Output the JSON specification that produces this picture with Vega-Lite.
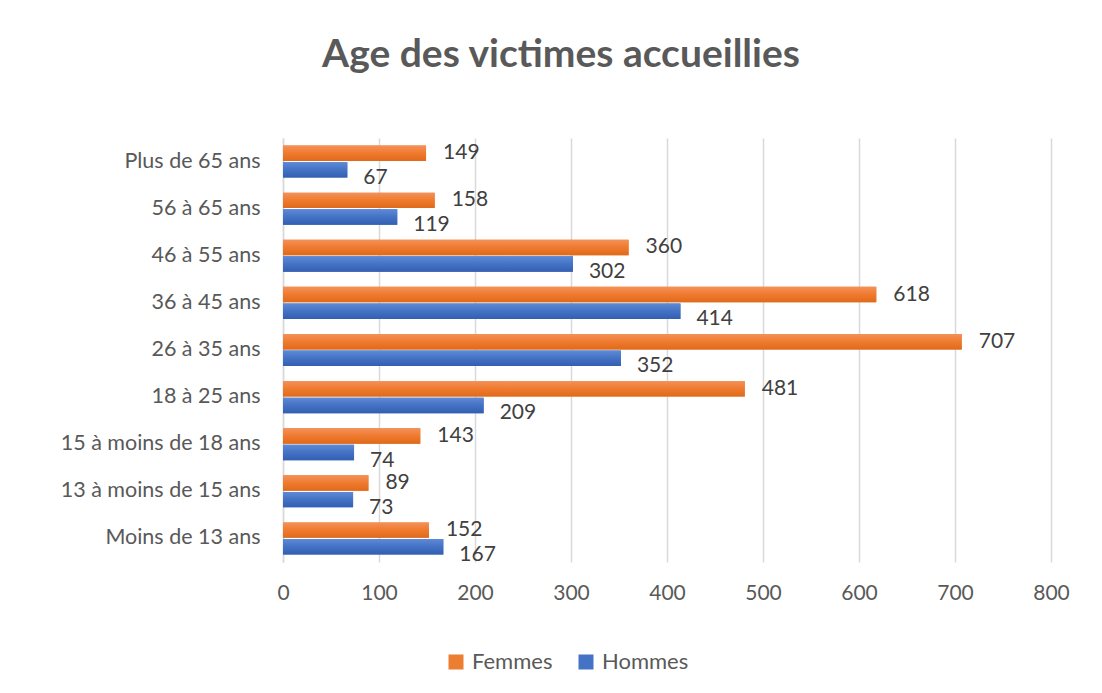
{
  "$schema": "https://vega.github.io/schema/vega-lite/v6.json",
  "width": 768,
  "height": 424,
  "autosize": "none",
  "padding": {"left": 283, "top": 138, "right": 51, "bottom": 131},
  "background": "white",
  "title": {
    "text": "Age des victimes accueillies",
    "font": "Lato",
    "fontSize": 39,
    "fontWeight": "bold",
    "color": "#595959",
    "anchor": "middle",
    "frame": "group",
    "dx": -106,
    "offset": 63
  },
  "config": {
    "view": {"stroke": null},
    "font": "Lato"
  },
  "data": {
    "values": [
      {"age": "Plus de 65 ans", "sexe": "Femmes", "n": 149},
      {"age": "Plus de 65 ans", "sexe": "Hommes", "n": 67},
      {"age": "56 à 65 ans", "sexe": "Femmes", "n": 158},
      {"age": "56 à 65 ans", "sexe": "Hommes", "n": 119},
      {"age": "46 à 55 ans", "sexe": "Femmes", "n": 360},
      {"age": "46 à 55 ans", "sexe": "Hommes", "n": 302},
      {"age": "36 à 45 ans", "sexe": "Femmes", "n": 618},
      {"age": "36 à 45 ans", "sexe": "Hommes", "n": 414},
      {"age": "26 à 35 ans", "sexe": "Femmes", "n": 707},
      {"age": "26 à 35 ans", "sexe": "Hommes", "n": 352},
      {"age": "18 à 25 ans", "sexe": "Femmes", "n": 481},
      {"age": "18 à 25 ans", "sexe": "Hommes", "n": 209},
      {"age": "15 à moins de 18 ans", "sexe": "Femmes", "n": 143},
      {"age": "15 à moins de 18 ans", "sexe": "Hommes", "n": 74},
      {"age": "13 à moins de 15 ans", "sexe": "Femmes", "n": 89},
      {"age": "13 à moins de 15 ans", "sexe": "Hommes", "n": 73},
      {"age": "Moins de 13 ans", "sexe": "Femmes", "n": 152},
      {"age": "Moins de 13 ans", "sexe": "Hommes", "n": 167}
    ]
  },
  "encoding": {
    "y": {
      "field": "age",
      "type": "nominal",
      "sort": null,
      "scale": {"paddingInner": 0.32, "paddingOuter": 0.16},
      "axis": {
        "title": null,
        "ticks": false,
        "labelFontSize": 21.5,
        "labelColor": "#595959",
        "labelPadding": 23,
        "labelLimit": 300,
        "domainColor": "#D9D9D9",
        "domainWidth": 1.5,
        "grid": false
      }
    },
    "yOffset": {
      "field": "sexe",
      "type": "nominal",
      "sort": ["Femmes", "Hommes"],
      "scale": {"domain": ["Femmes", "Hommes"], "paddingInner": 0.07}
    },
    "x": {
      "field": "n",
      "type": "quantitative",
      "scale": {"domain": [0, 800], "nice": false},
      "axis": {
        "title": null,
        "values": [0, 100, 200, 300, 400, 500, 600, 700, 800],
        "ticks": false,
        "domain": false,
        "labelFlush": false,
        "labelOverlap": false,
        "labelFontSize": 21,
        "labelColor": "#595959",
        "labelPadding": 20,
        "gridColor": "#D9D9D9",
        "gridWidth": 1.5
      }
    }
  },
  "layer": [
    {
      "mark": {"type": "bar"},
      "encoding": {
        "color": {
          "field": "sexe",
          "type": "nominal",
          "sort": ["Femmes", "Hommes"],
          "scale": {"domain": ["Femmes", "Hommes"], "range": ["#ED7D31", "#4472C4"]},
          "legend": {
            "title": null,
            "orient": "none",
            "direction": "horizontal",
            "legendX": 162,
            "legendY": 513,
            "symbolType": "square",
            "symbolSize": 225,
            "symbolStrokeWidth": 0,
            "labelFontSize": 22,
            "labelColor": "#595959",
            "columnPadding": 22,
            "labelOffset": 5
          }
        }
      }
    },
    {
      "transform": [{"filter": "datum.sexe === 'Femmes'"}],
      "mark": {
        "type": "bar",
        "color": {"gradient": "linear", "x1": 0, "y1": 0, "x2": 0, "y2": 1, "stops": [{"offset": 0, "color": "#F4915A"}, {"offset": 0.5, "color": "#EF7A2E"}, {"offset": 1, "color": "#E06A1B"}]}
      },
      "encoding": {}
    },
    {
      "transform": [{"filter": "datum.sexe === 'Hommes'"}],
      "mark": {
        "type": "bar",
        "color": {"gradient": "linear", "x1": 0, "y1": 0, "x2": 0, "y2": 1, "stops": [{"offset": 0, "color": "#5E8AD6"}, {"offset": 0.5, "color": "#4472C4"}, {"offset": 1, "color": "#335FB3"}]}
      },
      "encoding": {}
    },
    {
      "transform": [{"filter": "datum.sexe === 'Femmes'"}],
      "mark": {"type": "text", "align": "left", "baseline": "middle", "dx": 17, "dy": 0, "fontSize": 21, "color": "#404040"},
      "encoding": {"text": {"field": "n", "type": "quantitative"}}
    },
    {
      "transform": [{"filter": "datum.sexe === 'Hommes'"}],
      "mark": {"type": "text", "align": "left", "baseline": "middle", "dx": 16, "dy": 8, "fontSize": 21, "color": "#404040"},
      "encoding": {"text": {"field": "n", "type": "quantitative"}}
    }
  ]
}
